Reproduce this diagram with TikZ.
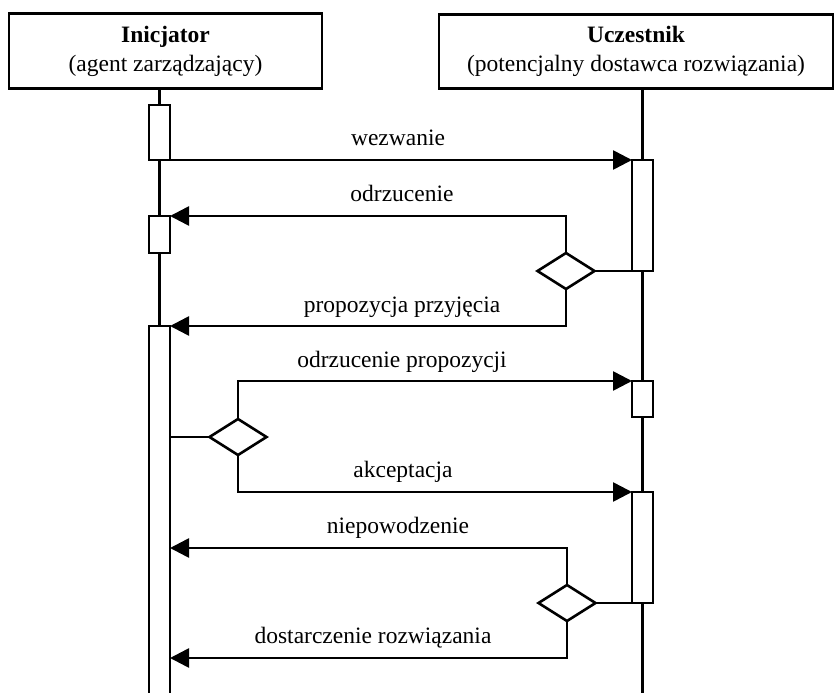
\documentclass[tikz,border=0pt]{standalone}
\usepackage{fontspec}
\setmainfont{Liberation Serif}
\usetikzlibrary{shapes.geometric,arrows.meta}
\begin{document}
\begin{tikzpicture}[x=1pt,y=-1pt,
  every node/.style={font=\fontsize{23.5}{29}\selectfont,outer sep=0pt},
  line width=2.6pt,
  head/.style={draw,rectangle,inner sep=0pt,align=center},
  act/.style={draw,rectangle,inner sep=0pt,minimum width=21pt,fill=white},
  dec/.style={draw,diamond,inner sep=0pt,minimum width=57pt,minimum height=36pt,fill=white},
  msg/.style={-{Triangle[length=19pt,width=19pt]}},
  lbl/.style={anchor=base,inner sep=0pt}]
\useasboundingbox (0,0) rectangle (838,693);
\clip (0,0) rectangle (838,693);
% headers
\node[head,minimum width=313pt,minimum height=75pt] (L) at (165.5,51) {\textbf{Inicjator}\\(agent zarządzający)};
\node[head,minimum width=394pt,minimum height=74pt] (R) at (636,51.5) {\textbf{Uczestnik}\\(potencjalny dostawca rozwiązania)};
% helper coordinates
\coordinate (bottom) at (0,700);
\coordinate (n1) at (170,548);
\coordinate (n2) at (170,658);
% activations (positions only)
\path (159.5,132.5) node[act,minimum height=55pt] (a1) {}
      (159.5,234.5) node[act,minimum height=37pt] (a2) {}
      (642.5,215.5) node[act,minimum height=111pt] (r1) {}
      (642.5,399) node[act,minimum height=36pt] (r2) {}
      (642.5,547.5) node[act,minimum height=111pt] (r3) {};
% lifelines
\draw (a1.north |- L.south) -- (a1.north);
\draw (a1.south) -- (a2.north);
\draw (r1.north |- R.south) -- (r1.north);
\draw (r1.south) -- (r2.north);
\draw (r2.south) -- (r3.north);
\draw (r3.south) -- (r3.south |- bottom);
% redraw activations on top
\node[act,minimum height=55pt] at (a1) {};
\node[act,minimum height=37pt] at (a2) {};
\node[act,minimum height=374pt] (a3) at (159.5,513) {};
\draw (a2.south) -- (a3.north);
\node[act,minimum height=111pt] at (r1) {};
\node[act,minimum height=36pt] at (r2) {};
\node[act,minimum height=111pt] at (r3) {};
% decisions
\node[dec] (d1) at (566,271) {};
\node[dec] (d2) at (238,437) {};
\node[dec] (d3) at (567,603) {};
% messages
\draw[msg] (a1.south east) -- (r1.north west);
\draw[msg] (d1.north) |- (a2.north east);
\draw[msg] (d1.south) |- (a3.north east);
\draw (d1.east) -- (d1.east -| r1.west);
\draw (d2.west -| a3.east) -- (d2.west);
\draw[msg] (d2.north) |- (r2.north west);
\draw[msg] (d2.south) |- (r3.north west);
\draw (d3.east) -- (d3.east -| r3.west);
\draw[msg] (d3.north) |- (n1);
\draw[msg] (d3.south) |- (n2);
% labels
\node[lbl] (t1) at (398,145) {wezwanie};
\node[lbl] (t2) at (402,201) {odrzucenie};
\node[lbl] (t3) at (402,312) {propozycja przyjęcia};
\node[lbl] (t4) at (402,367) {odrzucenie propozycji};
\node[lbl] (t5) at (403,477) {akceptacja};
\node[lbl] (t6) at (398,533) {niepowodzenie};
\node[lbl] (t7) at (373,643) {dostarczenie rozwiązania};
\end{tikzpicture}
\end{document}
